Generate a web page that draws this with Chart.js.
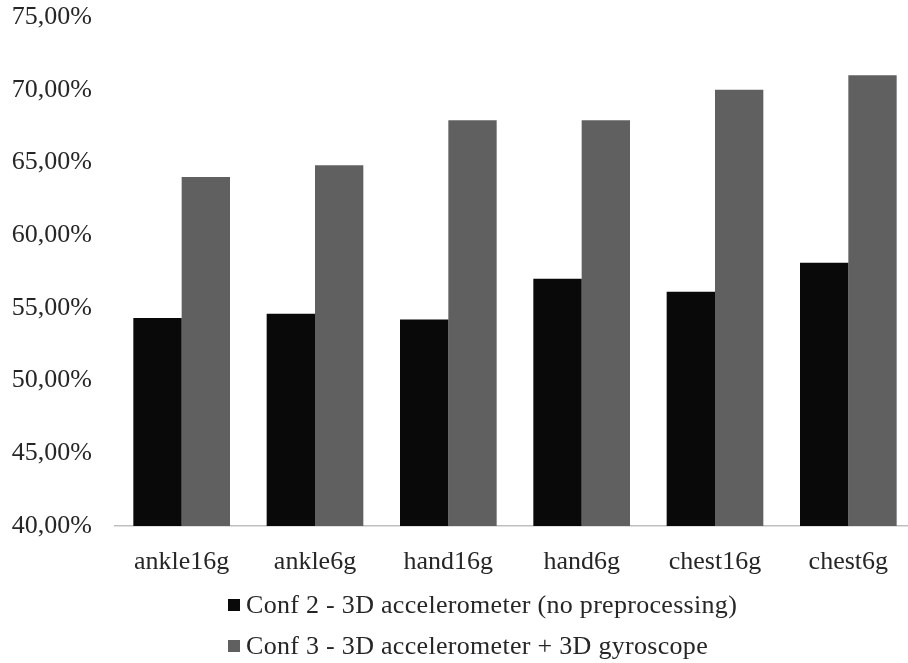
<!DOCTYPE html>
<html>
<head>
<meta charset="utf-8">
<script src="https://cdn.jsdelivr.net/npm/chart.js@4.4.1/dist/chart.umd.min.js"></script>
<style>
  html, body { margin: 0; padding: 0; background: #fff; overflow: hidden; }
  #frame { width: 908px; height: 663px; overflow: hidden; }
  #box { width: 916px; height: 663px; position: relative; }
</style>
</head>
<body>
<div id="frame"><div id="box"><canvas id="c"></canvas></div></div>
<script>
// Sensor placements / ranges
const categories = ['ankle16g', 'ankle6g', 'hand16g', 'hand6g', 'chest16g', 'chest6g'];
// Accuracy (%) per configuration
const conf2Values = [54.3, 54.6, 54.2, 57.0, 56.1, 58.1];
const conf3Values = [64.0, 64.8, 67.9, 67.9, 70.0, 71.0];
const seriesNames = [
  'Conf 2 - 3D accelerometer (no preprocessing)',
  'Conf 3 - 3D accelerometer + 3D gyroscope'
];
const yTicks = [40, 45, 50, 55, 60, 65, 70, 75];

const FONT = 'Liberation Serif, "Times New Roman", serif';
const TEXT = '#262626';

// Legend drawn as a left-aligned stacked list under the axis labels
const stackedLegend = {
  id: 'stackedLegend',
  afterDraw(chart) {
    const ctx = chart.ctx;
    ctx.save();
    ctx.font = '26px ' + FONT;
    ctx.textBaseline = 'middle';
    ctx.textAlign = 'left';
    if ('letterSpacing' in ctx) ctx.letterSpacing = '0.3px';
    const x0 = 228, rows = [605, 646];
    chart.data.datasets.forEach((ds, i) => {
      const y = rows[i];
      ctx.fillStyle = ds.backgroundColor;
      ctx.fillRect(x0, y - 6, 12, 12);
      ctx.fillStyle = TEXT;
      ctx.fillText(ds.label, x0 + 18, y + 1);
    });
    ctx.restore();
  }
};

new Chart(document.getElementById('c'), {
  type: 'bar',
  data: {
    labels: categories,
    datasets: [
      { label: seriesNames[0], data: conf2Values, backgroundColor: '#090909' },
      { label: seriesNames[1], data: conf3Values, backgroundColor: '#606060' }
    ]
  },
  options: {
    responsive: true,
    maintainAspectRatio: false,
    animation: false,
    layout: { padding: { top: 17, right: 1, bottom: 0, left: 0 } },
    datasets: { bar: { categoryPercentage: 0.725, barPercentage: 1.0 } },
    plugins: { legend: { display: false }, tooltip: { enabled: false } },
    scales: {
      x: {
        grid: { display: false, drawTicks: false },
        border: { display: true, color: '#bfbfbf', width: 1.5 },
        ticks: { color: TEXT, font: { family: FONT, size: 26 }, padding: 21, maxRotation: 0 },
        afterFit(s) { s.height = 137; s.paddingLeft = 0; s.paddingRight = 0; }
      },
      y: {
        min: 40, max: 75,
        afterBuildTicks(s) { s.ticks = yTicks.map(v => ({ value: v })); },
        grid: { display: false, drawTicks: false },
        border: { display: false },
        ticks: {
          color: TEXT, font: { family: FONT, size: 26 }, padding: 23,
          callback: v => v.toFixed(2).replace('.', ',') + '%'
        },
        afterFit(s) { s.width = 115; s.paddingTop = 0; s.paddingBottom = 0; }
      }
    }
  },
  plugins: [stackedLegend]
});
</script>
</body>
</html>
